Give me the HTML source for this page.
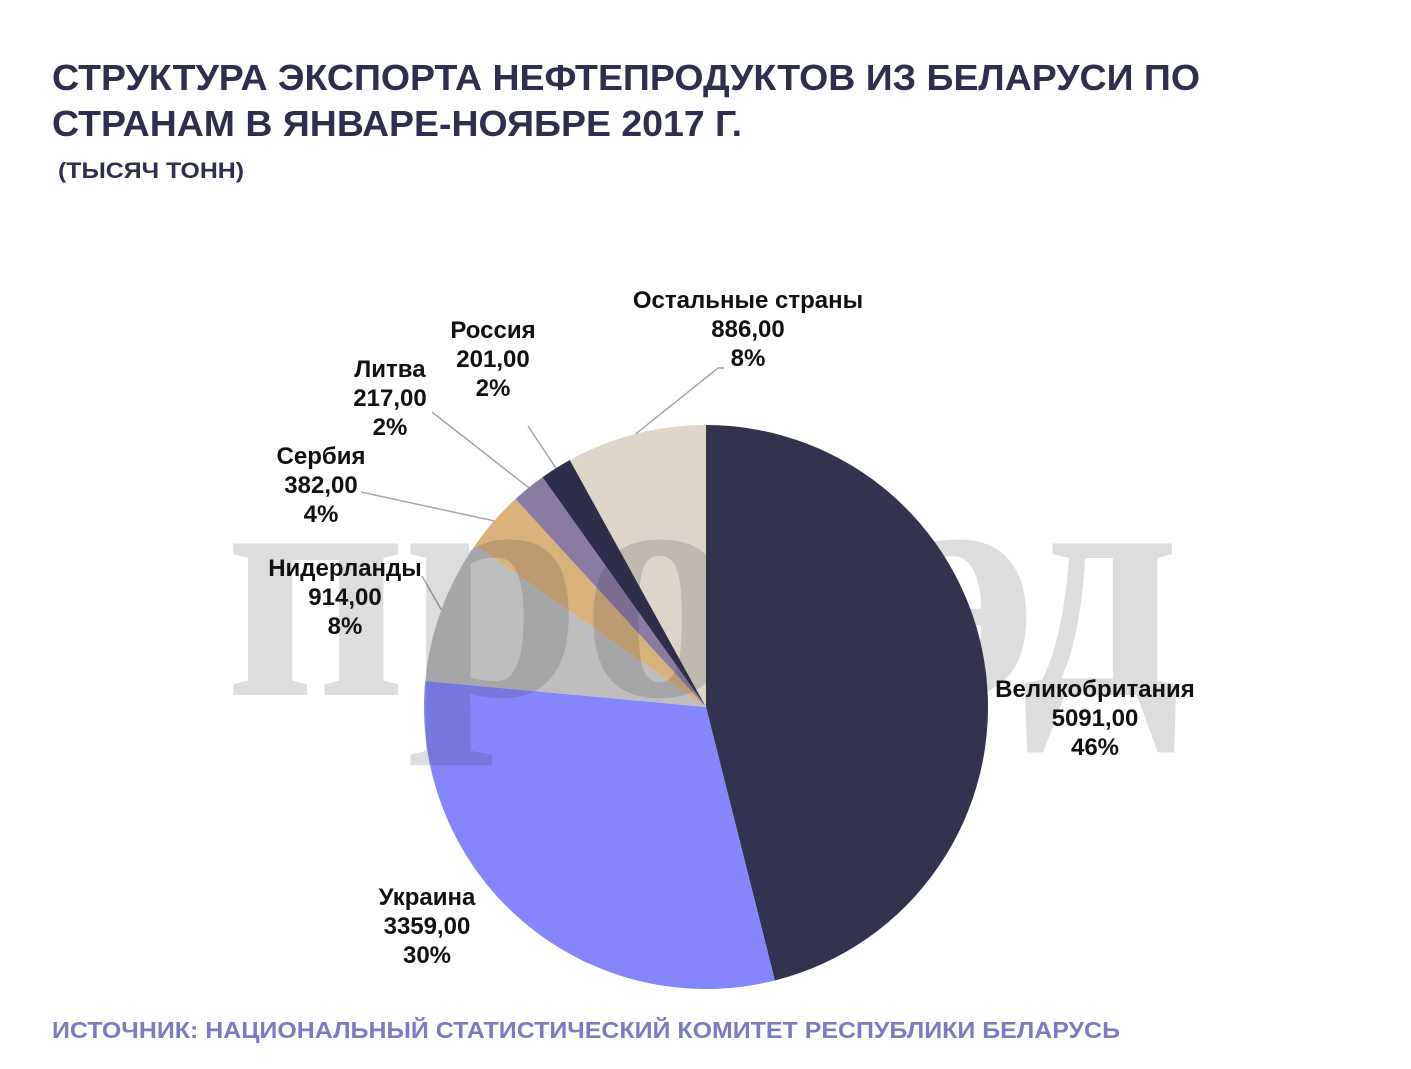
<!DOCTYPE html>
<html><head><meta charset="utf-8"><style>
body{margin:0;background:#fff;width:1411px;height:1069px;overflow:hidden;font-family:"Liberation Sans",sans-serif}
</style></head><body>
<svg width="1411" height="1069" style="position:absolute;left:0;top:0">
<text x="52" y="90" font-size="36" font-weight="bold" fill="#2e2e4e" textLength="1148" lengthAdjust="spacingAndGlyphs">СТРУКТУРА ЭКСПОРТА НЕФТЕПРОДУКТОВ ИЗ БЕЛАРУСИ ПО</text>
<text x="52" y="136" font-size="36" font-weight="bold" fill="#2e2e4e" textLength="690" lengthAdjust="spacingAndGlyphs">СТРАНАМ В ЯНВАРЕ-НОЯБРЕ 2017 Г.</text>
<text x="58" y="178" font-size="22" font-weight="bold" fill="#2e2e4e" textLength="186" lengthAdjust="spacingAndGlyphs">(ТЫСЯЧ ТОНН)</text>
<g id="pie"></g>
<g id="lines"></g>
<text x="225" y="695" font-size="330" font-weight="bold" font-family="Liberation Serif,serif" fill="#303040" opacity="0.16" textLength="955" lengthAdjust="spacingAndGlyphs">провэд</text>
<g id="labels"></g>
<text x="52" y="1038" font-size="23" font-weight="bold" fill="#7b7bc4" textLength="1068" lengthAdjust="spacingAndGlyphs">ИСТОЧНИК: НАЦИОНАЛЬНЫЙ СТАТИСТИЧЕСКИЙ КОМИТЕТ РЕСПУБЛИКИ БЕЛАРУСЬ</text>
</svg>
<script>
const categories=["Великобритания","Украина","Нидерланды","Сербия","Литва","Россия","Остальные страны"];
const values=[5091,3359,914,382,217,201,886];
const valueLabels=["5091,00","3359,00","914,00","382,00","217,00","201,00","886,00"];
const percentLabels=["46%","30%","8%","4%","2%","2%","8%"];
const colors=["#33334f","#8686fc","#bebebe","#d8b17b","#8a7ba3","#2e2e4a","#ddd5c7"];
const labelPos=[[1095,697],[427,905],[345,576],[321,464],[390,377],[493,338],[748,308]];
const cx=706,cy=707,r=282;
const ns="http://www.w3.org/2000/svg";
const total=values.reduce((a,b)=>a+b,0);
const pie=document.getElementById('pie'),lines=document.getElementById('lines'),labels=document.getElementById('labels');
let a0=0;
function pt(a,rr){return [cx+rr*Math.sin(a),cy-rr*Math.cos(a)];}
values.forEach((v,i)=>{
  const a1=a0+v/total*2*Math.PI;
  const p0=pt(a0,r),p1=pt(a1,r);
  const path=document.createElementNS(ns,'path');
  path.setAttribute('d',`M${cx},${cy}L${p0[0]},${p0[1]}A${r},${r} 0 ${a1-a0>Math.PI?1:0} 1 ${p1[0]},${p1[1]}Z`);
  path.setAttribute('fill',colors[i]);
  
  
  pie.appendChild(path);
  const am=(a0+a1)/2;
  const e=pt(am,r);
  const [lx,ly]=labelPos[i];
  if(i>=2){
    const ln=document.createElementNS(ns,'polyline');
    let tx=i==6?lx-30:(i==2?lx+77:lx+40),ty=i==6?ly+60:ly+(i==2?0:28);
    if(i==5){tx=lx+35;ty=ly+88;}
    if(i==4){tx=lx+42;ty=ly+35;}
    ln.setAttribute('points',`${e[0]},${e[1]} ${tx},${ty}`+(i==6?` ${tx+6},${ty}`:''));
    ln.setAttribute('stroke','#a6a6a6');ln.setAttribute('fill','none');ln.setAttribute('stroke-width','1.5');
    
    
    lines.appendChild(ln);
  }
  const t=document.createElementNS(ns,'text');
  t.setAttribute('x',lx);t.setAttribute('y',ly);
  t.setAttribute('text-anchor','middle');t.setAttribute('font-size','24');t.setAttribute('font-weight','bold');t.setAttribute('fill','#111');
  
  
  [categories[i],valueLabels[i],percentLabels[i]].forEach((s,k)=>{
    const ts=document.createElementNS(ns,'tspan');ts.setAttribute('x',lx);ts.setAttribute('dy',k?29:0);ts.textContent=s;t.appendChild(ts);
  });
  labels.appendChild(t);
  a0=a1;
});
</script>
</body></html>
